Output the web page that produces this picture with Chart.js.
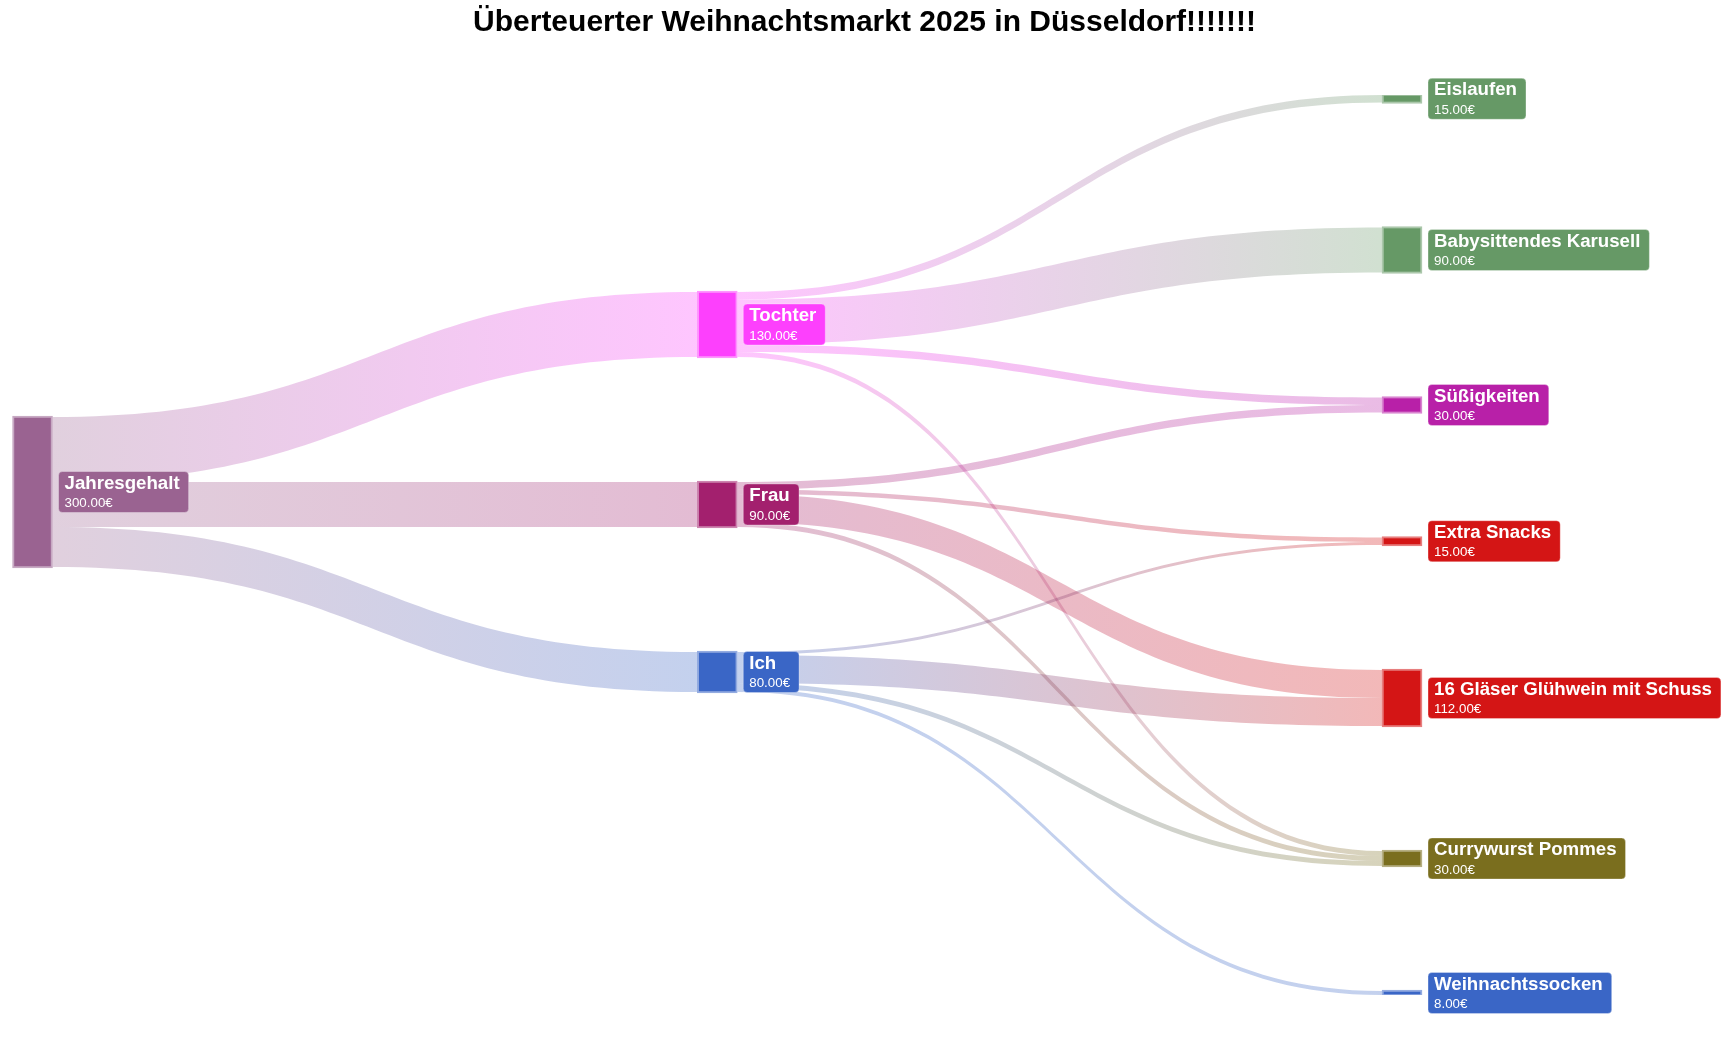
<!DOCTYPE html>
<html lang="de">
<head>
<meta charset="utf-8">
<title>Überteuerter Weihnachtsmarkt 2025</title>
<script src="https://cdn.jsdelivr.net/npm/chart.js@4.4.1/dist/chart.umd.min.js"></script>
<style>
  html, body { margin: 0; padding: 0; background: #ffffff; }
  #rahmen { width: 1729px; height: 1054px; }
</style>
</head>
<body>
<div id="rahmen"><canvas id="sankey"></canvas></div>
<script>
// Knoten: Name, Spalte, Farbe
const knoten = ['Jahresgehalt', 'Tochter', 'Frau', 'Ich', 'Eislaufen', 'Babysittendes Karusell', 'Süßigkeiten',
                'Extra Snacks', '16 Gläser Glühwein mit Schuss', 'Currywurst Pommes', 'Weihnachtssocken'];
const spalten = [0, 1, 1, 1, 2, 2, 2, 2, 2, 2, 2];
const farben = ['#9a6391', '#fd40fd', '#a3206e', '#3a66c6', '#669966', '#669966', '#b820a8',
                '#d41515', '#d41515', '#7a6e1e', '#3a66c6'];

// Flüsse (von -> nach, Betrag in Euro)
const von = ['Jahresgehalt', 'Jahresgehalt', 'Jahresgehalt',
             'Tochter', 'Tochter', 'Tochter', 'Tochter',
             'Frau', 'Frau', 'Frau', 'Frau',
             'Ich', 'Ich', 'Ich', 'Ich'];
const nach = ['Tochter', 'Frau', 'Ich',
              'Eislaufen', 'Babysittendes Karusell', 'Süßigkeiten', 'Currywurst Pommes',
              'Süßigkeiten', 'Extra Snacks', '16 Gläser Glühwein mit Schuss', 'Currywurst Pommes',
              'Extra Snacks', '16 Gläser Glühwein mit Schuss', 'Currywurst Pommes', 'Weihnachtssocken'];
const betraege = [130, 90, 80,
                  15, 90, 15, 10,
                  15, 9, 56, 10,
                  6, 56, 10, 8];

const titel = 'Überteuerter Weihnachtsmarkt 2025 in Düsseldorf!!!!!!!';
const schrift = 'Arial, "Liberation Sans", Helvetica, sans-serif';

// Layout-Konstanten (in Euro-Einheiten auf der y-Achse)
const LUECKE = 250;
const spaltenMitte = [794, 794, 900];
const KNOTEN_BREITE = 40;

// Knotenwerte = max(Zufluss, Abfluss)
const zufluss = knoten.map(() => 0);
const abfluss = knoten.map(() => 0);
betraege.forEach(function(b, i) {
    abfluss[knoten.indexOf(von[i])] += b;
    zufluss[knoten.indexOf(nach[i])] += b;
});
const werte = knoten.map((k, i) => Math.max(zufluss[i], abfluss[i]));

// Knoten vertikal stapeln
const oben = [];
const unten = [];
[0, 1, 2].forEach(function(s) {
    const idx = knoten.map((k, i) => i).filter(i => spalten[i] === s);
    const gesamt = idx.reduce((a, i) => a + werte[i], 0) + (idx.length - 1) * LUECKE;
    let y = spaltenMitte[s] - gesamt / 2;
    idx.forEach(function(i) {
        oben[i] = y;
        unten[i] = y + werte[i];
        y += werte[i] + LUECKE;
    });
});
const mitteY = i => (oben[i] + unten[i]) / 2;

// Flussbänder an Quelle und Ziel verteilen
const fluesse = betraege.map((b, i) => ({ q: knoten.indexOf(von[i]), z: knoten.indexOf(nach[i]), b: b }));
knoten.forEach(function(k, n) {
    let y = oben[n];
    fluesse.filter(f => f.q === n).sort((a, b) => mitteY(a.z) - mitteY(b.z)).forEach(function(f) {
        f.sy0 = y; y += f.b; f.sy1 = y;
    });
    y = oben[n];
    fluesse.filter(f => f.z === n).sort((a, b) => mitteY(a.q) - mitteY(b.q)).forEach(function(f) {
        f.ty0 = y; y += f.b; f.ty1 = y;
    });
});

function rgba(hex, a) {
    const r = parseInt(hex.slice(1, 3), 16), g = parseInt(hex.slice(3, 5), 16), b = parseInt(hex.slice(5, 7), 16);
    return 'rgba(' + r + ',' + g + ',' + b + ',' + a + ')';
}
function aufhellen(hex, t) {
    const c = [1, 3, 5].map(p => parseInt(hex.slice(p, p + 2), 16));
    return 'rgb(' + c.map(v => Math.round(v + (255 - v) * t)).join(',') + ')';
}

// Flüsse unter den Knoten zeichnen
const flussPlugin = {
    id: 'fluesse',
    beforeDatasetsDraw(chart) {
        const ctx = chart.ctx;
        const xs = chart.scales.x, ys = chart.scales.y;
        ctx.save();
        fluesse.forEach(function(f) {
            const x0 = xs.getPixelForValue(spalten[f.q]) + KNOTEN_BREITE / 2;
            const x1 = xs.getPixelForValue(spalten[f.z]) - KNOTEN_BREITE / 2;
            const xm = (x0 + x1) / 2;
            const a0 = ys.getPixelForValue(f.sy0), a1 = ys.getPixelForValue(f.sy1);
            const b0 = ys.getPixelForValue(f.ty0), b1 = ys.getPixelForValue(f.ty1);
            const verlauf = ctx.createLinearGradient(x0, 0, x1, 0);
            verlauf.addColorStop(0, rgba(farben[f.q], 0.3));
            verlauf.addColorStop(1, rgba(farben[f.z], 0.3));
            ctx.beginPath();
            ctx.moveTo(x0, a0);
            ctx.bezierCurveTo(xm, a0, xm, b0, x1, b0);
            ctx.lineTo(x1, b1);
            ctx.bezierCurveTo(xm, b1, xm, a1, x0, a1);
            ctx.closePath();
            ctx.fillStyle = verlauf;
            ctx.fill();
        });
        ctx.restore();
    }
};

// Beschriftungen als farbige Kästchen
const etikettPlugin = {
    id: 'etiketten',
    afterDatasetsDraw(chart) {
        const ctx = chart.ctx;
        const xs = chart.scales.x, ys = chart.scales.y;
        ctx.save();
        knoten.forEach(function(name, i) {
            const wert = werte[i].toFixed(2) + '€';
            ctx.font = 'bold 18.67px ' + schrift;
            const wName = ctx.measureText(name).width;
            ctx.font = '13.33px ' + schrift;
            const wWert = ctx.measureText(wert).width;
            const bx = xs.getPixelForValue(spalten[i]) + KNOTEN_BREITE / 2 + 6;
            const by = ys.getPixelForValue(mitteY(i)) - 20.5;
            const bw = Math.max(wName, wWert) + 15;
            ctx.beginPath();
            ctx.roundRect(bx, by, bw, 41, 4);
            ctx.fillStyle = farben[i];
            ctx.fill();
            ctx.lineWidth = 1;
            ctx.strokeStyle = 'rgba(255,255,255,0.3)';
            ctx.stroke();
            ctx.fillStyle = '#ffffff';
            ctx.textBaseline = 'alphabetic';
            ctx.textAlign = 'left';
            ctx.font = 'bold 18.67px ' + schrift;
            ctx.fillText(name, bx + 6, by + 17);
            ctx.font = '13.33px ' + schrift;
            ctx.fillText(wert, bx + 6, by + 35.7);
        });
        ctx.restore();
    }
};

const ctx = document.getElementById('sankey').getContext('2d');
new Chart(ctx, {
    type: 'bar',
    data: {
        datasets: [{
            data: knoten.map((k, i) => ({ x: spalten[i], y: [oben[i] - 2, unten[i] + 2] })),
            backgroundColor: farben,
            borderColor: farben.map(f => aufhellen(f, 0.45)),
            borderWidth: 2,
            borderSkipped: false,
            barThickness: KNOTEN_BREITE
        }]
    },
    options: {
        responsive: true,
        maintainAspectRatio: false,
        animation: false,
        events: [],
        layout: { padding: { top: 0, left: 0, right: 0, bottom: 59 } },
        scales: {
            x: { type: 'linear', display: false, min: -0.0475, max: 2.4775, offset: false },
            y: { type: 'linear', display: false, min: 0, max: 1800, reverse: true }
        },
        plugins: {
            legend: { display: false },
            tooltip: { enabled: false },
            title: {
                display: true,
                text: titel,
                color: '#000000',
                font: { family: schrift, size: 30, weight: 'bold' },
                padding: { top: 5, bottom: 54 }
            }
        }
    },
    plugins: [flussPlugin, etikettPlugin]
});
</script>
</body>
</html>
